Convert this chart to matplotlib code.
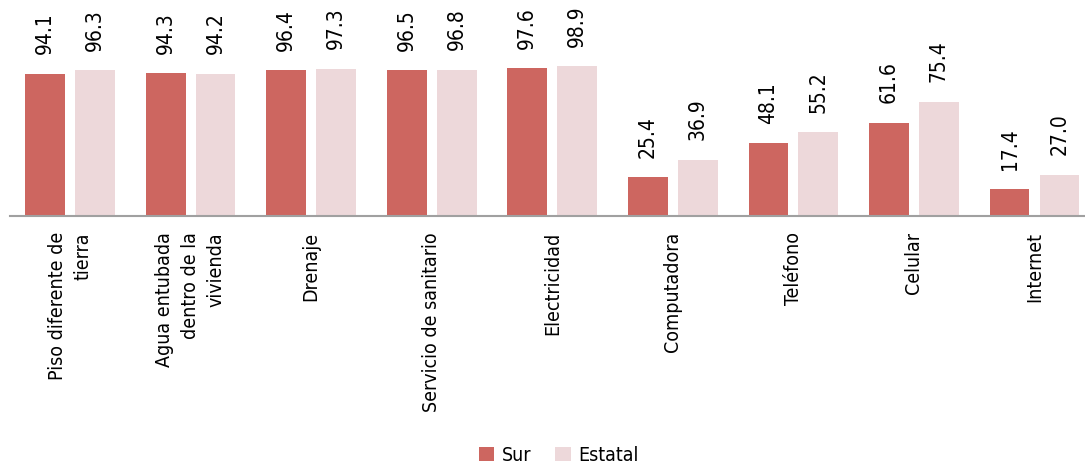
import numpy as np
import matplotlib
matplotlib.use('Agg')
import matplotlib.pyplot as plt
from matplotlib import font_manager as fm

categorias = ['Piso diferente de\ntierra', 'Agua entubada\ndentro de la\nvivienda', 'Drenaje',
              'Servicio de sanitario', 'Electricidad', 'Computadora', 'Teléfono', 'Celular', 'Internet']
sur = [94.1, 94.3, 96.4, 96.5, 97.6, 25.4, 48.1, 61.6, 17.4]
estatal = [96.3, 94.2, 97.3, 96.8, 98.9, 36.9, 55.2, 75.4, 27.0]

# buscar una fuente condensada instalada
archivo = None
for f in fm.fontManager.ttflist:
    nombre = (f.name + ' ' + f.fname).lower()
    if ('condensed' in nombre or 'narrow' in nombre or str(f.stretch) in ('condensed', 'semi-condensed')) \
            and 'bold' not in f.fname.lower() and 'italic' not in f.fname.lower() \
            and 'oblique' not in f.fname.lower() and f.weight in (400, 'normal', 'regular') \
            and 'mono' not in nombre and 'serif' not in nombre.replace('sans', ''):
        archivo = f.fname
        break
if archivo:
    fp = fm.FontProperties(fname=archivo)
else:
    fp = fm.FontProperties(family='DejaVu Sans')

color_sur = '#cd6660'
color_est = '#edd8da'

fig = plt.figure(figsize=(10.85, 4.66), dpi=100)
ax = fig.add_axes([0.009, 0.5375, 1.0, 0.4625])

x = np.arange(len(categorias))
w = 0.33
b1 = ax.bar(x - 0.207, sur, w, color=color_sur, label='Sur')
b2 = ax.bar(x + 0.207, estatal, w, color=color_est, label='Estatal')

for barras in (b1, b2):
    for r in barras:
        ax.annotate(f'{r.get_height():.1f}', (r.get_x() + r.get_width() / 2, r.get_height()),
                    xytext=(0, 14), textcoords='offset points', rotation=90,
                    ha='center', va='bottom', fontproperties=fp, fontsize=15)

ax.set_xlim(-0.5, 8.5)
ax.set_ylim(0, 143)
ax.set_yticks([])
for s in ['top', 'right', 'left']:
    ax.spines[s].set_visible(False)
ax.spines['bottom'].set_color('#a0a0a0')
ax.spines['bottom'].set_linewidth(1.5)

ax.set_xticks(x)
ax.set_xticklabels(categorias, rotation=90)
for t in ax.get_xticklabels():
    t.set_fontproperties(fp)
    t.set_fontsize(14)
    t.set_multialignment('right')
    t.set_linespacing(1.45)
ax.tick_params(axis='x', length=0, pad=12)

leg_fp = fp.copy()
leg_fp.set_size(14)
fig.legend(loc='lower center', bbox_to_anchor=(0.515, -0.035), ncol=2, frameon=False,
           prop=leg_fp, handlelength=0.8, handleheight=0.8, handletextpad=0.4, columnspacing=1.2)

fig.savefig('out.png', dpi=100)
